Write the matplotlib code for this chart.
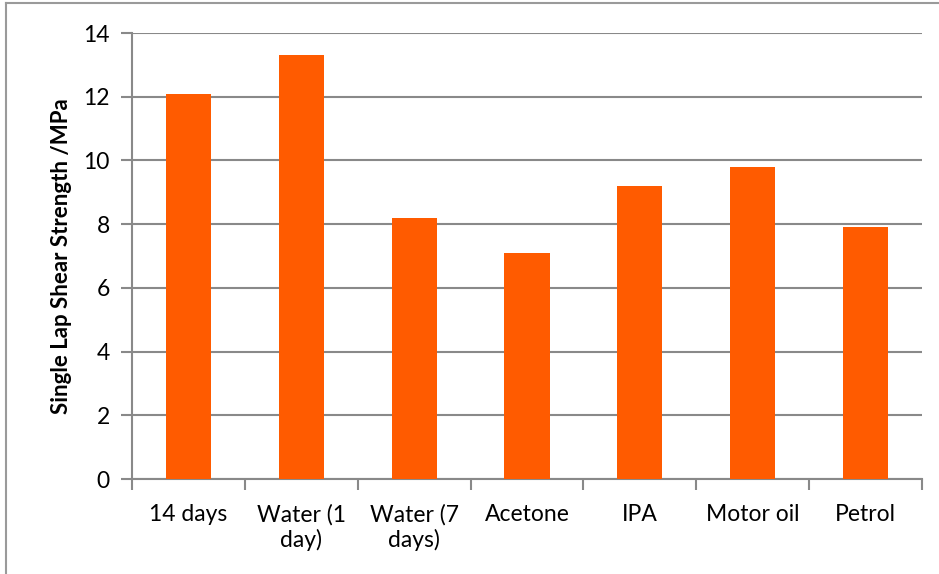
import matplotlib.pyplot as plt
from matplotlib.lines import Line2D

plt.rcParams['font.family'] = ['Lato', 'DejaVu Sans']

categories = ["14 days", "Water (1\nday)", "Water (7\ndays)", "Acetone", "IPA", "Motor oil", "Petrol"]
strength = [12.1, 13.3, 8.2, 7.1, 9.2, 9.8, 7.9]
y_ticks = [0, 2, 4, 6, 8, 10, 12, 14]

W, H = 939, 574
fig = plt.figure(figsize=(W / 100, H / 100), dpi=100)
ax = fig.add_axes([132 / W, 1 - 479 / H, 790 / W, 446 / H])

grey = "#898989"
pos = list(range(len(categories)))
ax.bar(pos, strength, width=0.4, color="#FF5B00", zorder=3)

ax.set_xlim(-0.5, len(categories) - 0.5)
ax.set_ylim(0, 14)
ax.set_yticks(y_ticks)
ax.yaxis.grid(True, color=grey, linewidth=1.5, zorder=0)

# category labels in the middle, ticks at the boundaries
ax.set_xticks(pos)
ax.set_xticklabels(categories, fontsize=16.5, linespacing=1.2, va="top")
ax.set_xticks([p - 0.5 for p in pos] + [len(categories) - 0.5], minor=True)
ax.tick_params(axis="x", which="major", length=0, pad=18)
ax.tick_params(axis="x", which="minor", length=8, width=1.5, color=grey, direction="out")
ax.tick_params(axis="y", length=8, width=1.5, color=grey, labelsize=16.5, pad=8)

for s in ["top", "right"]:
    ax.spines[s].set_visible(False)
for s in ["left", "bottom"]:
    ax.spines[s].set_color(grey)
    ax.spines[s].set_linewidth(1.5)

ax.set_ylabel("Single Lap Shear Strength /MPa", fontsize=16, fontweight="bold", labelpad=8)

# chart border (only top and left edges visible in the frame)
fig.add_artist(Line2D([6 / W, 6 / W], [0, 1 - 3 / H], transform=fig.transFigure, color="#9a9a9a", linewidth=1.5))
fig.add_artist(Line2D([6 / W, 1], [1 - 3 / H, 1 - 3 / H], transform=fig.transFigure, color="#9a9a9a", linewidth=1.5))

fig.savefig("out.png", dpi=100)
